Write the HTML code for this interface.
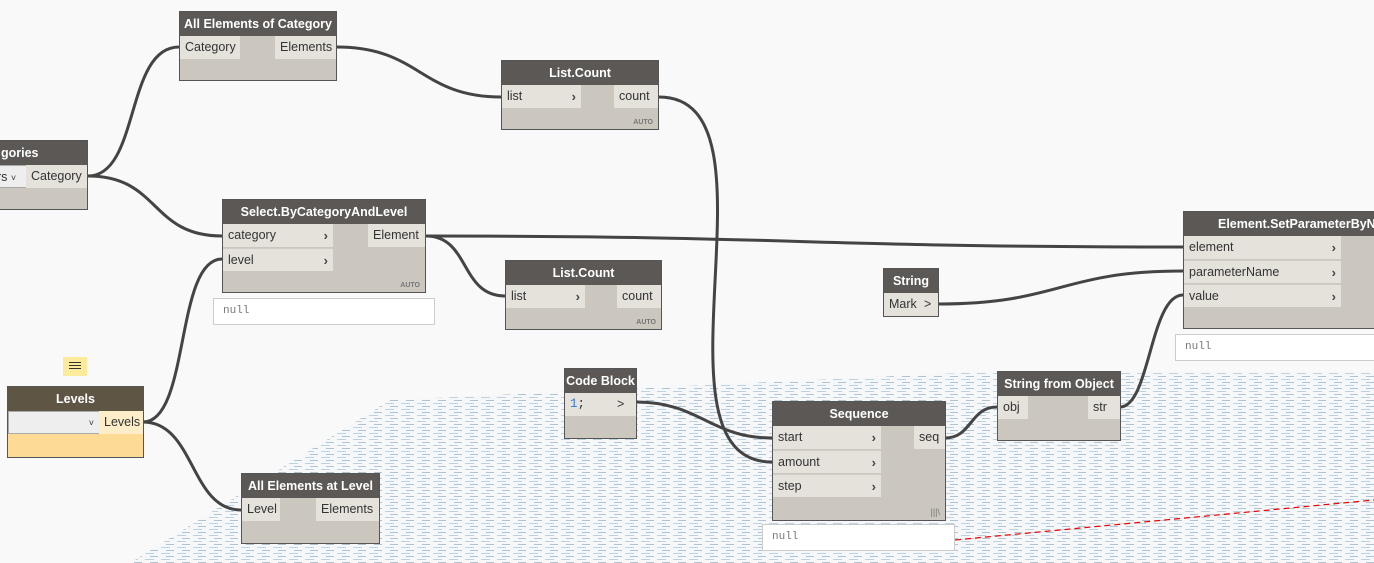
<!DOCTYPE html>
<html><head><meta charset="utf-8"><style>
body{margin:0;width:1374px;height:563px;overflow:hidden;background:#f9f9f9;font-family:"Liberation Sans",sans-serif;}
.n{position:absolute;background:#cbc6be;border:1px solid #555;box-sizing:border-box;}
.h{background:#5b5855;color:#fff;font-weight:bold;font-size:12.5px;text-align:center;height:24px;line-height:24px;white-space:nowrap;overflow:hidden;}
.p{position:absolute;background:#e5e2dc;font-size:12.5px;color:#333;line-height:23px;height:23px;padding:0 5px;box-sizing:border-box;white-space:nowrap;}
.ar{position:absolute;right:5px;top:0;font-weight:bold;color:#444;font-size:13px;}
.auto{position:absolute;right:5px;bottom:3px;font-size:7px;font-weight:bold;color:#777;}
.null{position:absolute;background:#fff;border:1px solid #ccc;box-sizing:border-box;font-family:"Liberation Mono",monospace;font-size:11px;color:#777;padding-left:9px;line-height:25px;}
.sep{border-top:1px solid #d0ccc5;}
</style></head><body>
<svg width="1374" height="563" style="position:absolute;left:0;top:0">
<defs><pattern id="g" width="16" height="6" patternUnits="userSpaceOnUse">
<rect width="16" height="6" fill="#f6f7f8"/>
<line x1="1" y1="1.5" x2="10" y2="1.5" stroke="#bdd2e1" stroke-width="1"/>
<line x1="6" y1="4.5" x2="14" y2="4.5" stroke="#b0c3d1" stroke-width="1"/>
</pattern></defs>
<polygon points="130,563 390,400 1000,371 1374,371 1374,563" fill="url(#g)"/>
<path d="M955,540 L1374,500" stroke="#e00" stroke-width="1.2" stroke-dasharray="6,4" fill="none"/>
<g stroke="#444" stroke-width="3" fill="none">
<path d="M88,176 C140,176 125,47 179,47"/>
<path d="M88,176 C160,176 150,236 222,236"/>
<path d="M337,47 C420,47 420,97 501,97"/>
<path d="M659,97 C790,97 640,462 772,462"/>
<path d="M426,236 C800,236 800,247 1183,247"/>
<path d="M426,236 C470,236 460,296 505,296"/>
<path d="M143,422 C190,422 175,259 222,259"/>
<path d="M143,422 C195,422 190,510 241,510"/>
<path d="M636,402 C700,402 710,438 772,438"/>
<path d="M938,304 C1060,304 1060,271 1183,271"/>
<path d="M945,438 C972,438 970,407 997,407"/>
<path d="M1120,407 C1150,407 1150,295 1183,295"/>
</g>
</svg>

<div class="n" style="left:179px;top:11px;width:158px;height:70px"><div class="h">All Elements of Category</div>
<div class="p" style="left:0;top:24px;width:60px">Category</div><div class="p" style="right:0;top:24px;width:61px;text-align:right">Elements</div></div>

<div class="n" style="left:501px;top:60px;width:158px;height:70px"><div class="h">List.Count</div>
<div class="p" style="left:0;top:24px;width:79px">list<span class="ar">›</span></div><div class="p" style="right:0;top:24px;width:44px">count</div><div class="auto">AUTO</div></div>

<div class="n" style="left:-10px;top:140px;width:98px;height:70px"><div class="h" style="text-align:left;padding-left:10px">gories</div>
<div class="p" style="left:0;top:24px;width:36px;background:#eee;border:1px solid #aaa">rs <span style="font-size:9px">˅</span></div><div class="p" style="right:0;top:24px;width:61px">Category</div></div>

<div class="n" style="left:222px;top:199px;width:204px;height:94px"><div class="h">Select.ByCategoryAndLevel</div>
<div class="p" style="left:0;top:24px;width:110px">category<span class="ar">›</span></div>
<div class="p sep" style="left:0;top:48px;width:110px">level<span class="ar">›</span></div>
<div class="p" style="right:0;top:24px;width:57px">Element</div><div class="auto">AUTO</div></div>
<div class="null" style="left:213px;top:298px;width:222px;height:27px">null</div>

<div class="n" style="left:505px;top:260px;width:157px;height:70px"><div class="h">List.Count</div>
<div class="p" style="left:0;top:24px;width:79px">list<span class="ar">›</span></div><div class="p" style="right:0;top:24px;width:44px">count</div><div class="auto">AUTO</div></div>

<div style="position:absolute;left:63px;top:357px;width:24px;height:19px;background:#fdeb9c"></div>
<div style="position:absolute;left:69px;top:362px;width:12px;height:1px;background:#333;box-shadow:0 3px 0 #333,0 6px 0 #333"></div>
<div class="n" style="left:7px;top:386px;width:137px;height:72px;background:#fddb95"><div class="h" style="background:#5e5544">Levels</div>
<div class="p" style="left:0;top:24px;width:92px;background:#eee;border:1px solid #aaa;text-align:right;font-size:9px">˅</div>
<div class="p" style="right:0;top:24px;width:44px;background:#fdedc9">Levels</div></div>

<div class="n" style="left:241px;top:473px;width:139px;height:71px"><div class="h">All Elements at Level</div>
<div class="p" style="left:0;top:24px;width:38px">Level</div><div class="p" style="right:0;top:24px;width:63px">Elements</div></div>

<div class="n" style="left:564px;top:368px;width:73px;height:71px"><div class="h">Code Block</div>
<div class="p" style="left:0;top:24px;width:47px;color:#2a7bd6;font-family:'Liberation Mono',monospace">1<span style="color:#333">;</span></div><div class="p" style="right:0;top:24px;width:24px">&gt;</div></div>

<div class="n" style="left:772px;top:401px;width:174px;height:120px"><div class="h">Sequence</div>
<div class="p" style="left:0;top:24px;width:108px">start<span class="ar">›</span></div>
<div class="p sep" style="left:0;top:48px;width:108px">amount<span class="ar">›</span></div>
<div class="p sep" style="left:0;top:72px;width:108px">step<span class="ar">›</span></div>
<div class="p" style="right:0;top:24px;width:31px">seq</div><div class="auto" style="font-size:9px;font-weight:normal">|||\</div></div>
<div class="null" style="left:762px;top:524px;width:193px;height:27px">null</div>

<div class="n" style="left:997px;top:371px;width:124px;height:70px"><div class="h">String from Object</div>
<div class="p" style="left:0;top:24px;width:30px">obj</div><div class="p" style="right:0;top:24px;width:32px">str</div></div>

<div class="n" style="left:883px;top:268px;width:56px;height:49px"><div class="h">String</div>
<div class="p" style="left:0;top:24px;width:35px;border-right:1px solid #aaa">Mark</div><div class="p" style="right:0;top:24px;width:20px;padding:0 6px">&gt;</div></div>

<div class="n" style="left:1183px;top:211px;width:200px;height:118px"><div class="h" style="text-align:left;padding-left:34px">Element.SetParameterByName</div>
<div class="p" style="left:0;top:24px;width:157px">element<span class="ar">›</span></div>
<div class="p sep" style="left:0;top:48px;width:157px">parameterName<span class="ar">›</span></div>
<div class="p sep" style="left:0;top:72px;width:157px">value<span class="ar">›</span></div></div>
<div class="null" style="left:1175px;top:334px;width:210px;height:27px">null</div>
</body></html>
